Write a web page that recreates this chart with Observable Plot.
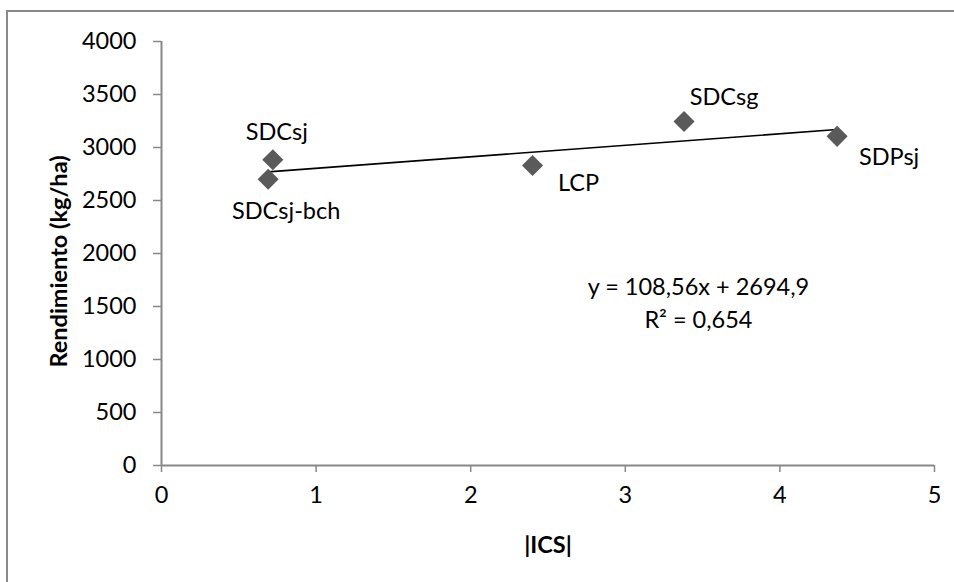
<!DOCTYPE html>
<html>
<head>
<meta charset="utf-8">
<script src="https://cdn.jsdelivr.net/npm/d3@7"></script>
<script src="https://cdn.jsdelivr.net/npm/@observablehq/plot@0.6"></script>
<style>
  html, body { margin: 0; padding: 0; background: #fff; overflow: hidden; }
  #wrap { position: relative; width: 954px; height: 582px; overflow: hidden; }
  #frame { position: absolute; left: 6px; top: 10px; width: 2000px; height: 2000px;
           border: 2px solid #898989; pointer-events: none; box-sizing: border-box; }
</style>
</head>
<body>
<div id="wrap"><div id="frame"></div></div>
<script>
// ---- data ----
const categories = ["SDCsj-bch", "SDCsj", "LCP", "SDCsg", "SDPsj"];
const icsValues = [0.69, 0.72, 2.40, 3.38, 4.37];
const yieldValues = [2700, 2885, 2830, 3245, 3105];
const xTicks = [0, 1, 2, 3, 4, 5];
const yTicks = [0, 500, 1000, 1500, 2000, 2500, 3000, 3500, 4000];
const trendSlope = 108.56;
const trendIntercept = 2694.9;
const trendR2 = 0.654;

// ---- build tables ----
const points = categories.map((name, i) => ({name, x: icsValues[i], y: yieldValues[i]}));
const [xMin, xMax] = d3.extent(icsValues);
const trend = [xMin, xMax].map(x => ({x, y: trendSlope * x + trendIntercept}));
const fmt = v => String(v).replace(".", ",");
const eqLine1 = `y = ${fmt(trendSlope)}x + ${fmt(trendIntercept)}`;
const eqLine2 = `R² = ${fmt(trendR2)}`;

// label placement (pixels, relative to each point)
const labelOffset = {
  "SDCsj-bch": [18, 32],
  "SDCsj": [4, -27],
  "LCP": [46, 18],
  "SDCsg": [40, -24],
  "SDPsj": [52, 21]
};

const axisGray = "#888888";
const font = "Lato, 'Open Sans', sans-serif";

const chart = Plot.plot({
  width: 954,
  height: 582,
  marginLeft: 161,
  marginRight: 20,
  marginTop: 41,
  marginBottom: 117,
  style: {fontFamily: font, fontSize: "23.5px", color: "#000", background: "transparent"},
  x: {domain: [0, 5]},
  y: {domain: [0, 4000]},
  marks: [
    Plot.ruleX([0], {stroke: axisGray, strokeWidth: 2}),
    Plot.ruleY([0], {stroke: axisGray, strokeWidth: 2}),
    Plot.axisX({ticks: xTicks, tickSize: 7, tickPadding: 14, stroke: axisGray, strokeWidth: 1.5, label: null, tickFormat: d => String(d)}),
    Plot.axisY({ticks: yTicks, tickSize: 8, tickPadding: 17, stroke: axisGray, strokeWidth: 1.5, label: null, tickFormat: d => String(d)}),
    Plot.line(trend, {x: "x", y: "y", stroke: "#000", strokeWidth: 1.6}),
    Plot.dot(points, {x: "x", y: "y", symbol: "diamond2", r: 9.5, fill: "#5a5a5a", stroke: "none"}),
    ...points.map(p => Plot.text([p], {
      x: "x", y: "y", text: "name",
      dx: labelOffset[p.name][0], dy: labelOffset[p.name][1],
      lineAnchor: "middle", textAnchor: "middle", fill: "#000"
    })),
    Plot.text([eqLine1], {x: 3.473, y: 1679, text: d => d, lineAnchor: "middle", textAnchor: "middle", fill: "#000"}),
    Plot.text([eqLine2], {x: 3.473, y: 1368, text: d => d, lineAnchor: "middle", textAnchor: "middle", fill: "#000"}),
    Plot.text(["Rendimiento (kg/ha)"], {frameAnchor: "left", text: d => d, rotate: -90, dx: -102, dy: 8,
      textAnchor: "middle", lineAnchor: "middle", fontWeight: "bold", fill: "#000"}),
    Plot.text(["|ICS|"], {frameAnchor: "bottom", text: d => d, dy: 80,
      textAnchor: "middle", lineAnchor: "middle", fontWeight: "bold", fill: "#000"})
  ]
});
document.getElementById("wrap").insertBefore(chart, document.getElementById("frame"));
</script>
</body>
</html>
